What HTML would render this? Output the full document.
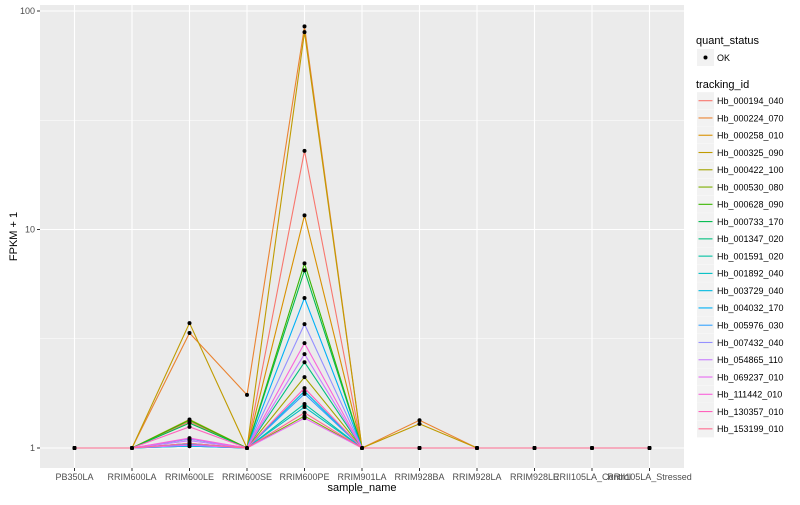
<!DOCTYPE html>
<html><head><meta charset="utf-8"><style>
body{margin:0;background:#fff;font-family:"Liberation Sans",sans-serif;}
svg text{font-family:"Liberation Sans",sans-serif;}
</style></head><body>
<svg id="chart" width="800" height="500" xmlns="http://www.w3.org/2000/svg"></svg>
<script>
const categories=["PB350LA","RRIM600LA","RRIM600LE","RRIM600SE","RRIM600PE","RRIM901LA","RRIM928BA","RRIM928LA","RRIM928LE","RRII105LA_Control","RRII105LA_Stressed"];
const trackingIds=["Hb_000194_040","Hb_000224_070","Hb_000258_010","Hb_000325_090","Hb_000422_100","Hb_000530_080","Hb_000628_090","Hb_000733_170","Hb_001347_020","Hb_001591_020","Hb_001892_040","Hb_003729_040","Hb_004032_170","Hb_005976_030","Hb_007432_040","Hb_054865_110","Hb_069237_010","Hb_111442_010","Hb_130357_010","Hb_153199_010"];
const colors=["#F8766D","#EA8331","#D89000","#C09B00","#A3A500","#7CAE00","#39B600","#00BB4E","#00BF7D","#00C1A3","#00BFC4","#00BAE0","#00B0F6","#35A2FF","#9590FF","#C77CFF","#E76BF3","#FA62DB","#FF62BC","#FF6C91"];
const valLE=[1.32,3.36,1.05,3.73,1.35,1.02,1.34,1.30,1.10,1.03,1.02,1.05,1.02,1.04,1.10,1.08,1.03,1.11,1.25,1.05];
const valSE=[1,1.75,1,1,1,1,1,1,1,1,1,1,1,1,1,1,1,1,1,1];
const valPE=[22.9,85,11.6,80,2.11,1.40,7.0,6.5,2.47,1.59,1.54,1.82,4.86,1.77,3.69,2.69,1.37,3.02,1.88,1.45];
const valBA=[1,1.34,1,1.29,1,1,1,1,1,1,1,1,1,1,1,1,1,1,1,1];
const yTicks=[1,10,100];
const yMinor=[Math.sqrt(10),Math.sqrt(1000)];
const NS="http://www.w3.org/2000/svg";
const svg=document.getElementById('chart');
const L=40,R=684,T=5,B=468;
const step=(R-L)/(categories.length-1+1.2);
const xs=i=>L+step*(0.6+i);
const ys=v=>448-218.5*Math.log10(v);
function mk(tag,attrs,parent){const e=document.createElementNS(NS,tag);for(const k in attrs)e.setAttribute(k,attrs[k]);(parent||svg).appendChild(e);return e;}
const panel=mk('rect',{x:L,y:T,width:R-L,height:B-T,fill:'#EBEBEB'});


yMinor.forEach(v=>{const g=mk('line',{x1:L,x2:R,y1:ys(v),y2:ys(v),stroke:'#fff','stroke-width':0.5});});
yTicks.forEach(v=>{const g=mk('line',{x1:L,x2:R,y1:ys(v),y2:ys(v),stroke:'#fff','stroke-width':1.1});
 const tk=mk('line',{x1:L-3,x2:L,y1:ys(v),y2:ys(v),stroke:'#333'});
 const t=mk('text',{x:L-5,y:ys(v)+3,'text-anchor':'end','font-size':9,fill:'#4D4D4D'});t.textContent=v;});
categories.forEach((c,i)=>{const g=mk('line',{x1:xs(i),x2:xs(i),y1:T,y2:B,stroke:'#fff','stroke-width':1.1});
 const tk=mk('line',{x1:xs(i),x2:xs(i),y1:B,y2:B+3,stroke:'#333'});
 const t=mk('text',{x:xs(i),y:B+12,'text-anchor':'middle','font-size':9,fill:'#4D4D4D'});t.textContent=c;});
trackingIds.forEach((id,s)=>{
 const vals=categories.map((c,i)=>i===2?valLE[s]:i===3?valSE[s]:i===4?valPE[s]:i===6?valBA[s]:1);
 const p=mk('polyline',{points:vals.map((v,i)=>xs(i)+','+ys(v)).join(' '),fill:'none',stroke:colors[s],'stroke-width':1.1});
 
 vals.forEach((v,i)=>{const d=mk('circle',{cx:xs(i),cy:ys(v),r:2,fill:'#000'});});
});
const xt=mk('text',{x:(L+R)/2,y:491,'text-anchor':'middle','font-size':11,fill:'#000'});xt.textContent='sample_name';
const yt=mk('text',{x:17,y:(T+B)/2,'text-anchor':'middle','font-size':11,fill:'#000',transform:'rotate(-90 17 '+((T+B)/2)+')'});yt.textContent='FPKM + 1';
const lt1=mk('text',{x:696,y:44,'font-size':11,fill:'#000'});lt1.textContent='quant_status';
mk('rect',{x:697,y:49,width:17,height:17,fill:'#F2F2F2'});
mk('circle',{cx:705.5,cy:57.5,r:2,fill:'#000'});
const ok=mk('text',{x:717,y:61,'font-size':9,fill:'#000'});ok.textContent='OK';
const lt2=mk('text',{x:696,y:88,'font-size':11,fill:'#000'});lt2.textContent='tracking_id';
trackingIds.forEach((id,s)=>{const cy=100.7+s*17.27;
 mk('rect',{x:697,y:cy-8.5,width:17,height:17,fill:'#F2F2F2'});
 const k=mk('line',{x1:698.5,x2:712.5,y1:cy,y2:cy,stroke:colors[s],'stroke-width':1.1});
 const t=mk('text',{x:717,y:cy+3.3,'font-size':9,fill:'#000'});t.textContent=id;});
</script>
</body></html>
